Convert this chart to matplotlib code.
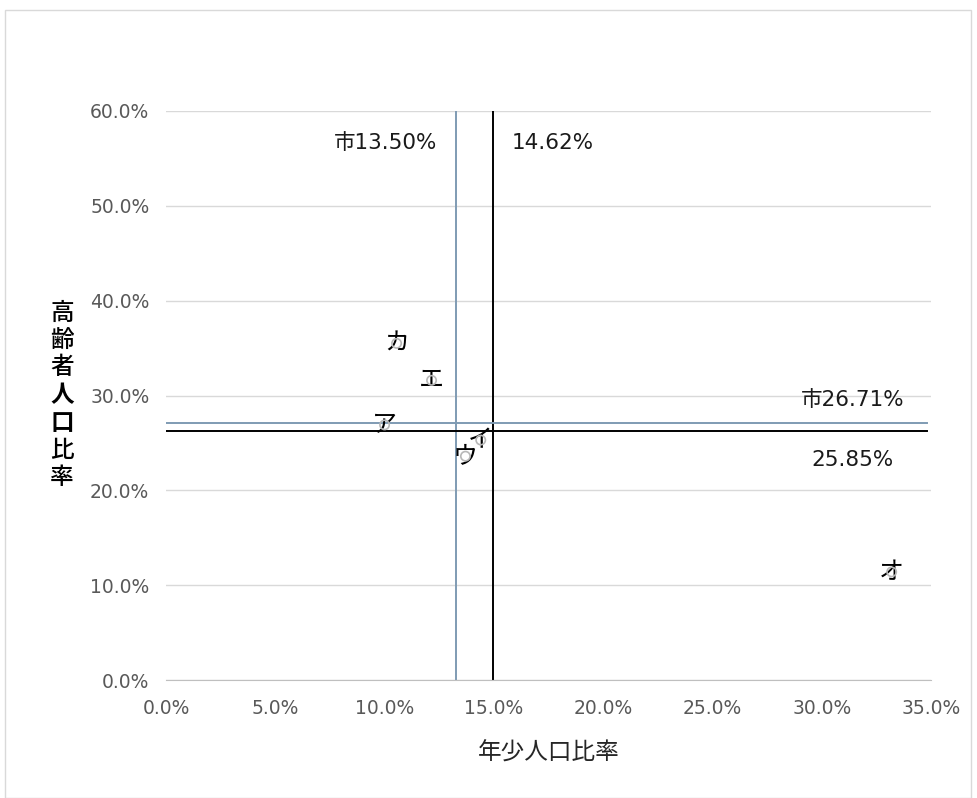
import matplotlib
matplotlib.use('Agg')
import matplotlib.pyplot as plt
import matplotlib.ticker as ticker
from matplotlib.patches import Rectangle

plt.rcParams['font.family'] = ['DejaVu Sans', 'Noto Sans CJK JP']

# 地区ごとの値（%）
names = ['ア', 'イ', 'ウ', 'エ', 'オ', 'カ']
youth = [10.0, 14.4, 13.7, 12.15, 33.2, 10.55]
elderly = [26.9, 25.3, 23.6, 31.6, 11.4, 35.5]

# 基準線（線の位置と表示ラベル）
city_youth, city_youth_label = 13.27, '市13.50%'
our_youth, our_youth_label = 14.95, '14.62%'
city_elderly, city_elderly_label = 27.14, '市26.71%'
our_elderly, our_elderly_label = 26.3, '25.85%'

x_ticks = [0, 5, 10, 15, 20, 25, 30, 35]
y_ticks = [0, 10, 20, 30, 40, 50, 60]

y_title = '高齢者人口比率'
y_title_bold = {'人', '口'}

fig = plt.figure(figsize=(9.78, 7.98), dpi=100)
fig.patches.append(Rectangle((5 / 978, 0.0), 966 / 978, 788 / 798, transform=fig.transFigure,
                             fill=False, edgecolor='#d9d9d9', linewidth=1.0))
ax = fig.add_axes([166 / 978, 118 / 798, 765 / 978, 569 / 798])

ax.set_xlim(0, 35)
ax.set_ylim(0, 60)
ax.xaxis.set_major_locator(ticker.FixedLocator(x_ticks))
ax.yaxis.set_major_locator(ticker.FixedLocator(y_ticks))
ax.xaxis.set_major_formatter(ticker.FuncFormatter(lambda v, p: f'{v:.1f}%'))
ax.yaxis.set_major_formatter(ticker.FuncFormatter(lambda v, p: f'{v:.1f}%'))
ax.tick_params(length=0, labelsize=13.5, labelcolor='#595959')
ax.tick_params(axis='x', pad=14)
ax.tick_params(axis='y', pad=12)

ax.grid(axis='y', color='#d9d9d9', linewidth=1.0)
ax.set_axisbelow(True)
for s in ['top', 'right', 'left']:
    ax.spines[s].set_visible(False)
ax.spines['bottom'].set_color('#bfbfbf')

# 基準線
ax.axvline(city_youth, color='#7f9bb3', linewidth=1.4)
ax.axvline(our_youth, color='#000000', linewidth=1.4)
ax.plot([0, 34.8], [city_elderly, city_elderly], color='#7f9bb3', linewidth=1.4)
ax.plot([0, 34.8], [our_elderly, our_elderly], color='#000000', linewidth=1.4)

lbl = dict(fontsize=15.5, color='#1a1a1a', va='center')
ax.annotate(city_youth_label, xy=(city_youth, 0.944), xycoords=('data', 'axes fraction'),
            xytext=(-13.5, 0), textcoords='offset points', ha='right', **lbl)
ax.annotate(our_youth_label, xy=(our_youth, 0.944), xycoords=('data', 'axes fraction'),
            xytext=(13.5, 0), textcoords='offset points', ha='left', **lbl)
ax.annotate(city_elderly_label, xy=(0.897, city_elderly), xycoords=('axes fraction', 'data'),
            xytext=(0, 16), textcoords='offset points', ha='center', **lbl)
ax.annotate(our_elderly_label, xy=(0.897, our_elderly), xycoords=('axes fraction', 'data'),
            xytext=(0, -21.5), textcoords='offset points', ha='center', **lbl)

# 散布点とラベル
for n, xv, yv in zip(names, youth, elderly):
    ax.text(xv, yv, n, ha='center', va='center', fontsize=18, color='#000000', zorder=4,
            family=['Noto Sans CJK JP'])
ax.scatter(youth, elderly, s=45, facecolors='none', edgecolors='#b8b8b8', linewidths=1.2, zorder=5)

ax.set_xlabel('年少人口比率', fontsize=17, color='#262626', labelpad=17,
              family=['Noto Sans CJK JP'])

# 縦書きの軸ラベル
for i, ch in enumerate(y_title):
    fig.text(62 / 978, 1 - (313 + i * 27.5) / 798, ch, ha='center', va='center', fontsize=17,
             color='#000000', family=['Noto Sans CJK JP'],
             fontweight='bold' if ch in y_title_bold else 'medium')

fig.savefig('out.png', dpi=100)
